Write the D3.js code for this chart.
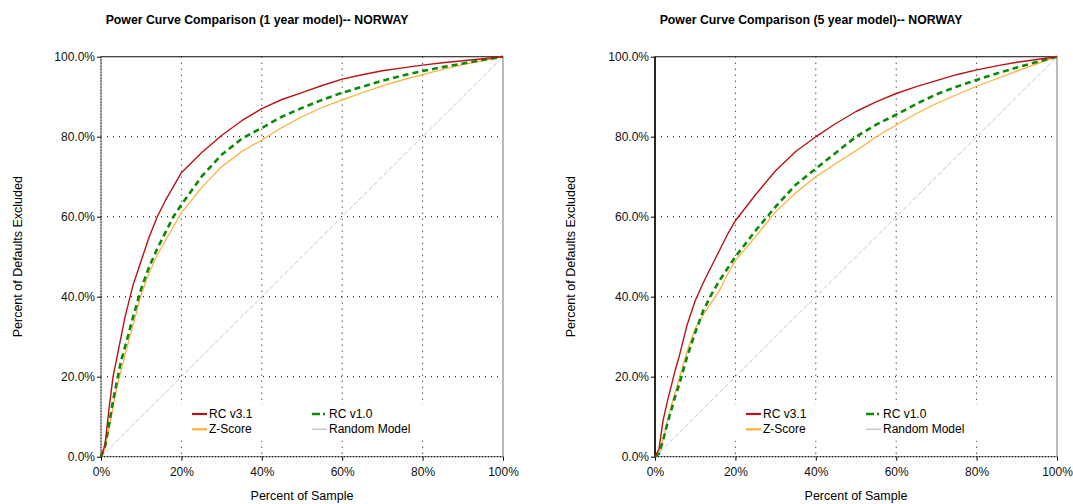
<!DOCTYPE html>
<html>
<head>
<meta charset="utf-8">
<script src="https://cdn.jsdelivr.net/npm/d3@7"></script>
<style>
  body { margin: 0; background: #fff; }
  svg { font-family: "Liberation Sans", Arial, sans-serif; }
</style>
</head>
<body>
<svg id="chart" width="1073" height="504"></svg>
<script>
"use strict";

// percent of sample (x) shared by every curve
var samplePct = [0, 1, 2, 3, 4, 5, 6, 8, 10, 12, 14, 16, 18, 20, 25, 30, 35, 40, 45, 50, 55, 60, 65, 70, 75, 80, 85, 90, 95, 100];

// 1 year model
var rc31_1y = [0, 3, 12, 20, 25, 30, 35, 43, 49, 55, 60, 64, 67.5, 71, 76, 80.3, 84, 87, 89.3, 91, 92.8, 94.4, 95.5, 96.5, 97.2, 97.9, 98.5, 99, 99.5, 100];
var rc10_1y = [0, 2.5, 8, 14, 19, 24, 27.5, 35, 42, 47.5, 52, 56, 60, 63, 70, 75.5, 79.5, 82.2, 85, 87.2, 89.2, 91, 92.5, 94, 95.3, 96.4, 97.4, 98.3, 99.2, 100];
var zscore_1y = [0, 2, 7, 12.5, 17.5, 21.5, 25.5, 33, 40.5, 46, 50.5, 54, 57.5, 61, 67.2, 72.5, 76.3, 79.2, 82.3, 85, 87.3, 89.2, 91, 92.7, 94.2, 95.5, 96.8, 98, 99, 100];

// 5 year model
var rc31_5y = [0, 2, 9, 13.5, 17.5, 21.5, 25, 33, 39, 43.5, 47.5, 51.5, 55.5, 59, 65.5, 71.5, 76.3, 80, 83.3, 86.3, 88.7, 90.8, 92.5, 94, 95.5, 96.7, 97.7, 98.6, 99.3, 100];
var rc10_5y = [0, 0.8, 4, 8, 11.5, 15, 18, 25, 31, 36.5, 40.5, 44, 47, 50, 56.5, 62.5, 68, 72, 76, 80, 83, 85.5, 88.2, 90.6, 92.5, 94.2, 95.8, 97.3, 98.7, 100];
var zscore_5y = [0, 0.8, 4.5, 8.5, 12.5, 16, 19.5, 26.5, 32, 35.5, 38.5, 41.5, 45.5, 49, 55, 61.2, 66, 70, 73.3, 76.5, 80, 82.9, 85.8, 88.3, 90.5, 92.6, 94.5, 96.4, 98.2, 100];

var randomModel = [0, 100];
var randomPct = [0, 100];

var xTicks = [0, 20, 40, 60, 80, 100];
var yTicks = [0, 20, 40, 60, 80, 100];

var legendNames = ["RC v3.1", "RC v1.0", "Z-Score", "Random Model"];

(function () {

    var plotWidth = 402, plotHeight = 400;
    var top = 56.7;

    var styles = {
        "RC v3.1": { color: "#b81414", width: 1.4, dash: null },
        "RC v1.0": { color: "#0a8a0a", width: 2.6, dash: "6,4" },
        "Z-Score": { color: "#ffad33", width: 1.2, dash: null },
        "Random Model": { color: "#c8c8c8", width: 1, dash: "5,2" }
    };

    var svg = d3.select("#chart");

    drawChart(101, "Power Curve Comparison (1 year model)-- NORWAY",
        [rc31_1y, rc10_1y, zscore_1y], false);
    drawChart(655, "Power Curve Comparison (5 year model)-- NORWAY",
        [rc31_5y, rc10_5y, zscore_5y], true);

    function drawChart(left, title, seriesValues, solidLeftAxis) {
        var g = svg.append("g")
            .attr("transform", "translate(" + left + "," + top + ")");

        var xScale = d3.scaleLinear().domain([0, 100]).range([0, plotWidth]);
        var yScale = d3.scaleLinear().domain([0, 100]).range([plotHeight, 0]);

        // title
        svg.append("text")
            .attr("x", left + 156)
            .attr("y", 24)
            .attr("text-anchor", "middle")
            .style("font-size", "12.3px")
            .style("font-weight", "bold")
            .text(title);

        // dotted grid
        g.append("g").selectAll("line")
            .data(xTicks.slice(1, -1))
            .enter().append("line")
            .attr("x1", function (d) { return xScale(d); })
            .attr("x2", function (d) { return xScale(d); })
            .attr("y1", 0).attr("y2", plotHeight)
            .attr("stroke", "#000")
            .attr("stroke-dasharray", "1,5");
        g.append("g").selectAll("line")
            .data(yTicks.slice(1, -1))
            .enter().append("line")
            .attr("y1", function (d) { return yScale(d); })
            .attr("y2", function (d) { return yScale(d); })
            .attr("x1", 0).attr("x2", plotWidth)
            .attr("stroke", "#000")
            .attr("stroke-dasharray", "1,5");

        // legend background hides grid
        g.append("rect")
            .attr("x", 72).attr("y", 348)
            .attr("width", 258).attr("height", 36)
            .attr("fill", "#fff");

        // frame
        g.append("rect")
            .attr("x", 0).attr("y", 0)
            .attr("width", plotWidth).attr("height", plotHeight)
            .attr("fill", "none")
            .attr("stroke", "#777")
            .attr("stroke-width", 1);
        g.append("line")
            .attr("x1", 0).attr("x2", plotWidth)
            .attr("y1", plotHeight).attr("y2", plotHeight)
            .attr("stroke", "#000")
            .attr("stroke-dasharray", "1,2");
        g.append("line")
            .attr("x1", 0).attr("x2", 0)
            .attr("y1", 0).attr("y2", plotHeight)
            .attr("stroke", "#000")
            .attr("stroke-width", solidLeftAxis ? 1.6 : 1)
            .attr("stroke-dasharray", solidLeftAxis ? null : "1,2");
        g.append("line")
            .attr("x1", 0).attr("x2", plotWidth)
            .attr("y1", 0).attr("y2", 0)
            .attr("stroke", "#333");

        // axes
        var xAxis = d3.axisBottom(xScale)
            .tickValues(xTicks)
            .tickSize(4)
            .tickPadding(7)
            .tickFormat(function (d) { return d + "%"; });
        var yAxis = d3.axisLeft(yScale)
            .tickValues(yTicks)
            .tickSize(4)
            .tickPadding(2)
            .tickFormat(function (d) { return d.toFixed(1) + "%"; });

        var xg = g.append("g")
            .attr("transform", "translate(0," + plotHeight + ")")
            .call(xAxis);
        var yg = g.append("g").call(yAxis);
        [xg, yg].forEach(function (a) {
            a.select(".domain").remove();
            a.selectAll("text").style("font-size", "12px")
                .style("font-family", "Liberation Sans, Arial, sans-serif")
                .attr("fill", "#111");
            a.selectAll("line").attr("stroke", "#000");
        });

        // axis labels
        g.append("text")
            .attr("text-anchor", "middle")
            .attr("x", plotWidth / 2)
            .attr("y", plotHeight + 43)
            .style("font-size", "12.5px")
            .text("Percent of Sample");
        g.append("text")
            .attr("text-anchor", "middle")
            .attr("transform", "rotate(-90)")
            .attr("x", -plotHeight / 2)
            .attr("y", left === 101 ? -79 : -80)
            .style("font-size", "12.5px")
            .text("Percent of Defaults Excluded");

        var line = d3.line()
            .x(function (d) { return xScale(d[0]); })
            .y(function (d) { return yScale(d[1]); });

        // random model
        var rs = styles["Random Model"];
        g.append("path")
            .datum(d3.zip(randomPct, randomModel))
            .attr("d", line)
            .attr("fill", "none")
            .attr("stroke", rs.color)
            .attr("stroke-width", rs.width)
            .attr("stroke-dasharray", rs.dash);

        // curves: z-score, rc v1.0, rc v3.1
        var order = [2, 1, 0];
        var names = ["RC v3.1", "RC v1.0", "Z-Score"];
        order.forEach(function (i) {
            var s = styles[names[i]];
            g.append("path")
                .datum(d3.zip(samplePct, seriesValues[i]))
                .attr("d", line)
                .attr("fill", "none")
                .attr("stroke", s.color)
                .attr("stroke-width", s.width)
                .attr("stroke-dasharray", s.dash)
                .attr("stroke-linejoin", "round");
        });

        // legend
        var legendPos = [[91, 357.3], [211, 357.3], [91, 372.6], [211, 372.6]];
        legendNames.forEach(function (name, i) {
            var s = styles[name];
            var p = legendPos[i];
            g.append("line")
                .attr("x1", p[0]).attr("x2", p[0] + 15)
                .attr("y1", p[1]).attr("y2", p[1])
                .attr("stroke", s.color)
                .attr("stroke-width", name === "Random Model" ? 1.5 : (name === "RC v1.0" ? 2.6 : 2.2))
                .attr("stroke-dasharray", name === "RC v1.0" ? "8,3,2,3" : null);
            g.append("text")
                .attr("x", p[0] + 17)
                .attr("y", p[1])
                .attr("dy", "0.35em")
                .style("font-size", "12px")
                .text(name);
        });
    }

})();
</script>
</body>
</html>
